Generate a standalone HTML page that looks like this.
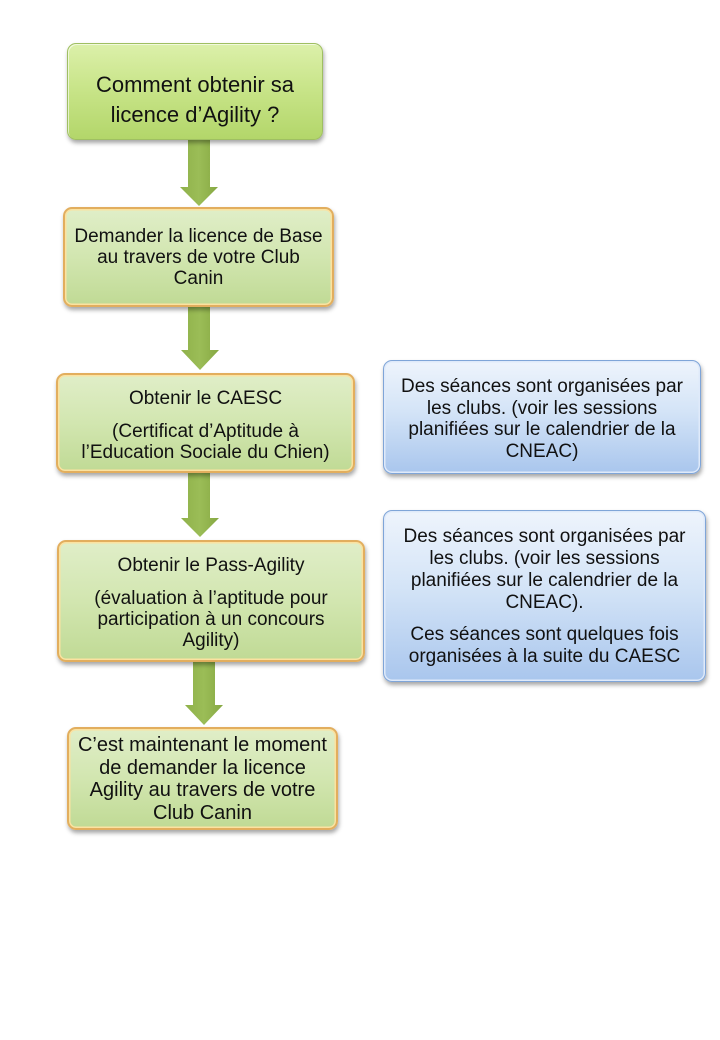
<!DOCTYPE html>
<html>
<head>
<meta charset="utf-8">
<style>
  html,body{margin:0;padding:0;background:#fff;}
  body{width:720px;height:1040px;position:relative;overflow:hidden;font-family:"Liberation Sans",Arial,sans-serif;color:#111;}
  .box{position:absolute;box-sizing:border-box;border-radius:9px;}
  .g1{background:linear-gradient(to bottom,#dcf0aa 0%,#c9e58a 45%,#b3d66a 100%);border:1.5px solid #9fbf62;box-shadow:inset 1px 1px 0 rgba(255,255,255,0.6),1px 3px 4px rgba(0,0,0,0.35);}
  .g2{background:linear-gradient(to bottom,#e0eec8 0%,#d2e6b0 50%,#c0da95 100%);border:2px solid #e2ae5e;box-shadow:inset 0 0 0 1.5px #fbe2a0,1px 3px 4px rgba(0,0,0,0.35);}
  .bl{background:linear-gradient(to bottom,#eef4fc 0%,#d4e4f7 45%,#a9c6ed 100%);border:1.5px solid #7fa5d8;box-shadow:inset 0 0 0 1.5px #dfeafa,1px 3px 4px rgba(0,0,0,0.35);}
  .t{position:absolute;text-align:center;white-space:nowrap;}
  svg{position:absolute;left:0;top:0;}
</style>
</head>
<body>
<svg width="720" height="1040" viewBox="0 0 720 1040">
  <defs>
    <linearGradient id="ag" x1="0" y1="0" x2="1" y2="0">
      <stop offset="0" stop-color="#8fb14a"/>
      <stop offset="0.5" stop-color="#9bbd57"/>
      <stop offset="1" stop-color="#86a842"/>
    </linearGradient>
  </defs>
  <polygon points="188,138 210,138 210,187 218,187 199,206 180,187 188,187" fill="url(#ag)"/>
  <polygon points="188,305 210,305 210,350 219,350 200,370 181,350 188,350" fill="url(#ag)"/>
  <polygon points="188,471 210,471 210,518 219,518 200,537 181,518 188,518" fill="url(#ag)"/>
  <polygon points="193,660 215,660 215,705 223,705 204,725 185,705 193,705" fill="url(#ag)"/>
</svg>

<div class="box g1" style="left:67px;top:43px;width:256px;height:97px;"></div>
<div class="t" style="left:67px;width:256px;top:70px;font-size:22px;line-height:29.5px;">Comment obtenir sa<br>licence d’Agility ?</div>

<div class="box g2" style="left:63px;top:207px;width:271px;height:100px;"></div>
<div class="t" style="left:63px;width:271px;top:226px;font-size:19px;line-height:21px;">Demander la licence de Base<br>au travers de votre Club<br>Canin</div>

<div class="box g2" style="left:56px;top:373px;width:299px;height:100px;"></div>
<div class="t" style="left:56px;width:299px;top:389px;font-size:19px;line-height:20px;">Obtenir le CAESC</div>
<div class="t" style="left:56px;width:299px;top:421px;font-size:19px;line-height:21px;">(Certificat d’Aptitude à<br>l’Education Sociale du Chien)</div>

<div class="box g2" style="left:57px;top:540px;width:308px;height:122px;"></div>
<div class="t" style="left:57px;width:308px;top:556px;font-size:19px;line-height:20px;">Obtenir le Pass-Agility</div>
<div class="t" style="left:57px;width:308px;top:588px;font-size:19px;line-height:21px;">(évaluation à l’aptitude pour<br>participation à un concours<br>Agility)</div>

<div class="box g2" style="left:67px;top:727px;width:271px;height:103px;"></div>
<div class="t" style="left:67px;width:271px;top:734px;font-size:20px;line-height:22.5px;">C’est maintenant le moment<br>de demander la licence<br>Agility au travers de votre<br>Club Canin</div>

<div class="box bl" style="left:383px;top:360px;width:318px;height:114px;"></div>
<div class="t" style="left:383px;width:318px;top:376px;font-size:19px;line-height:21.7px;">Des séances sont organisées par<br>les clubs. (voir les sessions<br>planifiées sur le calendrier de la<br>CNEAC)</div>

<div class="box bl" style="left:383px;top:510px;width:323px;height:172px;"></div>
<div class="t" style="left:383px;width:323px;top:526px;font-size:19px;line-height:22px;">Des séances sont organisées par<br>les clubs. (voir les sessions<br>planifiées sur le calendrier de la<br>CNEAC).</div>
<div class="t" style="left:383px;width:323px;top:624px;font-size:19px;line-height:22px;">Ces séances sont quelques fois<br>organisées à la suite du CAESC</div>
</body>
</html>
